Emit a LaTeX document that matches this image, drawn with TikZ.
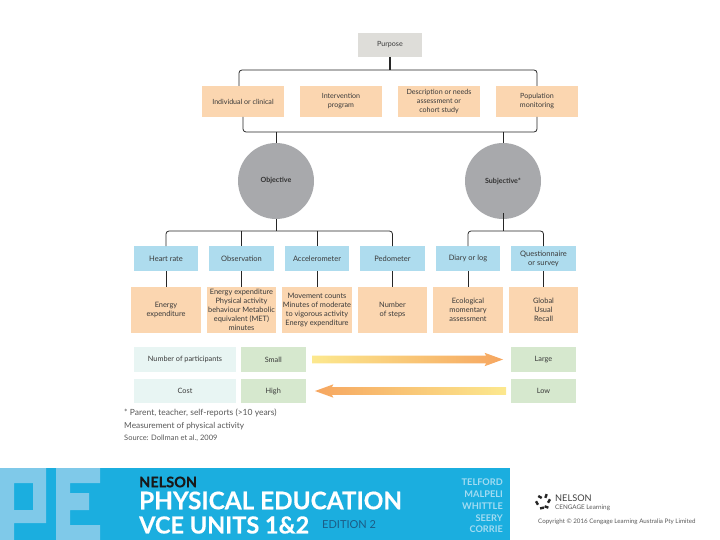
\documentclass[tikz,border=0pt]{standalone}
\usepackage{fontspec}
\setmainfont{Lato}
\newfontfamily\bannerfont{Lato}[BoldFeatures={FakeBold=0.5}]
\usepackage{xcolor}
\usetikzlibrary{positioning,shapes.arrows}
\definecolor{PeOrange}{HTML}{FBD6B0}
\definecolor{PeBlue}{HTML}{AEDCEE}
\definecolor{PeGrey}{HTML}{DEDDD9}
\definecolor{PeDisc}{HTML}{A8A9AC}
\definecolor{PeGreen}{HTML}{D6E8CE}
\definecolor{PePale}{HTML}{E8F5F3}
\definecolor{PeBand}{HTML}{1BAEDF}
\definecolor{PeLetter}{HTML}{7FC9E9}
\definecolor{PeAuthor}{HTML}{A3DCF2}
\definecolor{PeInk}{HTML}{3A3A3A}
\definecolor{PeNavy}{HTML}{1C5C86}
\definecolor{PeArrowA}{HTML}{FCE88E}
\definecolor{PeArrowB}{HTML}{F6A660}

\begin{document}
\begin{tikzpicture}[x=1pt, y=-1pt,
  box/.style={fill=#1, outer sep=0pt, inner sep=1pt, align=center, text=PeInk, font=\fontsize{7.1}{9}\selectfont},
  purposebox/.style={box=PeGrey, minimum width=64pt, minimum height=24pt},
  usebox/.style={box=PeOrange, minimum width=82pt, minimum height=31pt},
  methodbox/.style={box=PeBlue, minimum width=64.5pt, minimum height=25pt, font=\fontsize{7.5}{9}\selectfont},
  measurebox/.style={box=PeOrange, minimum width=69.5pt, minimum height=46pt, font=\fontsize{7.4}{9}\selectfont},
  disc/.style={circle, fill=PeDisc, outer sep=0pt, inner sep=0pt, minimum size=76pt, font=\fontsize{7.1}{8}\selectfont\bfseries, text=black!80},
  rowbox/.style={box=PePale, minimum width=102pt, minimum height=#1, font=\fontsize{7.3}{9}\selectfont},
  scalebox/.style={box=PeGreen, minimum width=64.5pt, minimum height=#1, font=\fontsize{7.3}{9}\selectfont},
  trend/.style={single arrow, minimum height=191pt, minimum width=13pt, inner xsep=0pt, inner ysep=3.7pt, outer sep=0pt, single arrow head extend=2.8pt, single arrow tip angle=40, single arrow head indent=1.5pt, anchor=tip},
  link/.style={draw=black!85, line width=0.8pt},
  note/.style={anchor=west, inner sep=0pt, text=PeInk!85, font=\fontsize{#1}{9}\selectfont},
  author/.style={anchor=east, inner sep=0pt, text=PeAuthor, font=\fontsize{9.2}{10}\selectfont\bfseries},
  banner/.style={anchor=west, inner sep=0pt, font=\bannerfont\fontsize{#1}{26}\selectfont\bfseries, text=white}
]
\useasboundingbox (0,0) rectangle (720,540);

\node[purposebox] (purpose) at (390,45) {Purpose};

\node[usebox] (individual) at (243,101.5) {Individual or clinical};
\node[usebox, right=16pt of individual] (intervention) {Intervention\\program};
\node[usebox, right=16pt of intervention] (description) {Description or needs\\assessment or\\cohort study};
\node[usebox, right=16pt of description] (population) {Population\\monitoring};

\node[disc] (objective) at (276,181) {Objective};
\node[disc] (subjective) at (503,181) {Subjective*};

\node[methodbox] (heart) at (166,258.5) {Heart rate};
\node[methodbox, right=11pt of heart] (observation) {Observation};
\node[methodbox, right=11pt of observation] (accelerometer) {Accelerometer};
\node[methodbox, right=11pt of accelerometer] (pedometer) {Pedometer};
\node[methodbox, right=11pt of pedometer] (diary) {Diary or log};
\node[methodbox, right=11pt of diary] (survey) {Questionnaire\\or survey};

\node[measurebox, below=16pt of heart] (energy) {Energy\\expenditure};
\node[measurebox, below=16pt of observation] (behaviour) {Energy expenditure\\Physical activity\\behaviour Metabolic\\equivalent (MET)\\minutes};
\node[measurebox, below=16pt of accelerometer] (counts) {Movement counts\\Minutes of moderate\\to vigorous activity\\Energy expenditure};
\node[measurebox, below=16pt of pedometer] (steps) {Number\\of steps};
\node[measurebox, below=16pt of diary] (ecological) {Ecological\\momentary\\assessment};
\node[measurebox, below=16pt of survey] (recall) {Global\\Usual\\Recall};

\node[rowbox=25pt] (participants) at (185,359.5) {Number of participants};
\node[scalebox=25pt, right=5pt of participants] (small) {Small};
\node[scalebox=25pt] (large) at (543.5,359.5) {Large};
\node[rowbox=24pt] (cost) at (185,391) {Cost};
\node[scalebox=24pt, right=5pt of cost] (high) {High};
\node[scalebox=24pt] (low) at (543.5,391) {Low};

\node[trend, left color=PeArrowA, right color=PeArrowB] (more) at (503,359.5) {};
\node[trend, shape border rotate=180, left color=PeArrowB, right color=PeArrowA] (less) at (315,391) {};

\node[note=8.5] (footA) at (124,412.5) {* Parent, teacher, self-reports (>10 years)};
\node[note=8.3] (footB) at (124,426) {Measurement of physical activity};
\node[note=7.5] (footC) at (124,438) {Source: Dollman et al., 2009};

\coordinate (toprail) at (390,70);
\coordinate (lowrail) at (390,132);
\coordinate (objrail) at (276,231);
\coordinate (subrail) at (503,231);

\draw[link, line width=1.4pt] (purpose) -- (toprail);
\draw[link, rounded corners=3pt] ([xshift=-4pt]individual.north) |- (toprail) -| (population.north);
\draw[link, rounded corners=3pt] (individual.south) |- (lowrail) -| (population.south);
\draw[link] (objective.north |- lowrail) -- (objective.north);
\draw[link] (subjective.north |- lowrail) -- (subjective.north);

\draw[link] (objective.south) -- (objrail);
\draw[link] ([yshift=6pt]subjective.south) -- (subrail);
\draw[link, rounded corners=3pt] (heart.north) |- (objrail) -| (pedometer.north);
\draw[link, line width=1.6pt] (observation.north |- objrail) -- (observation.north);
\draw[link] (accelerometer.north |- objrail) -- (accelerometer.north);
\draw[link, rounded corners=3pt] (diary.north) |- (subrail) -| (survey.north);

\draw[link] (heart) -- (energy);
\draw[link] (observation) -- (behaviour);
\draw[link] (accelerometer) -- (counts);
\draw[link] (pedometer) -- (steps);
\draw[link] (diary) -- (ecological);
\draw[link] (survey) -- (recall);

% banner
\fill[PeBand] (0,468) rectangle (510,540);
\fill[PeLetter, even odd rule] (0,468) -- (46,468) -- (46,523) -- (14,523) -- (14,540) -- (0,540) -- cycle
  (14,483) rectangle (33,510);
\fill[PeLetter] (56,468) -- (100,468) -- (100,483) -- (70,483) -- (70,493) -- (89,493) -- (89,510) -- (70,510) -- (70,525) -- (100,525) -- (100,540) -- (56,540) -- cycle;
\node[banner=14.5, text=black!90] (nelson) at (139,482) {NELSON};
\node[banner=24.3] (title) at (139,500.5) {PHYSICAL EDUCATION};
\node[banner=23.5] (units) at (139,525) {VCE UNITS 1\&2};
\node[anchor=west, inner sep=0pt, font=\fontsize{11}{12}\selectfont, text=PeNavy] (edition) at (322,525) {EDITION 2};
\node[author] (telford) at (503,482) {TELFORD};
\node[author] (malpeli) at (503,494) {MALPELI};
\node[author] (whittle) at (503,506) {WHITTLE};
\node[author] (seery) at (503,518) {SEERY};
\node[author] (corrie) at (503,529) {CORRIE};

% publisher
\foreach \px/\py/\pa in {546/496/70, 540/497/-30, 549/501/60, 537/503/-60, 542/508/10, 546.5/507/-20}
  \fill[black!85, rotate around={\pa:(\px,\py)}] (\px-2,\py-1.2) rectangle (\px+2,\py+1.2);
\node[anchor=west, inner sep=0pt, font=\fontsize{9.2}{10}\selectfont, text=black!75] (imprint) at (555,498) {NELSON};
\node[anchor=west, inner sep=0pt, font=\fontsize{6.3}{7}\selectfont, text=black!65] (cengage) at (555,507.5) {CENGAGE Learning};
\node[anchor=west, inner sep=0pt, font=\fontsize{6.2}{7}\selectfont, text=black!65] (copyright) at (538,522) {Copyright © 2016 Cengage Learning Australia Pty Limited};
\end{tikzpicture}
\end{document}
